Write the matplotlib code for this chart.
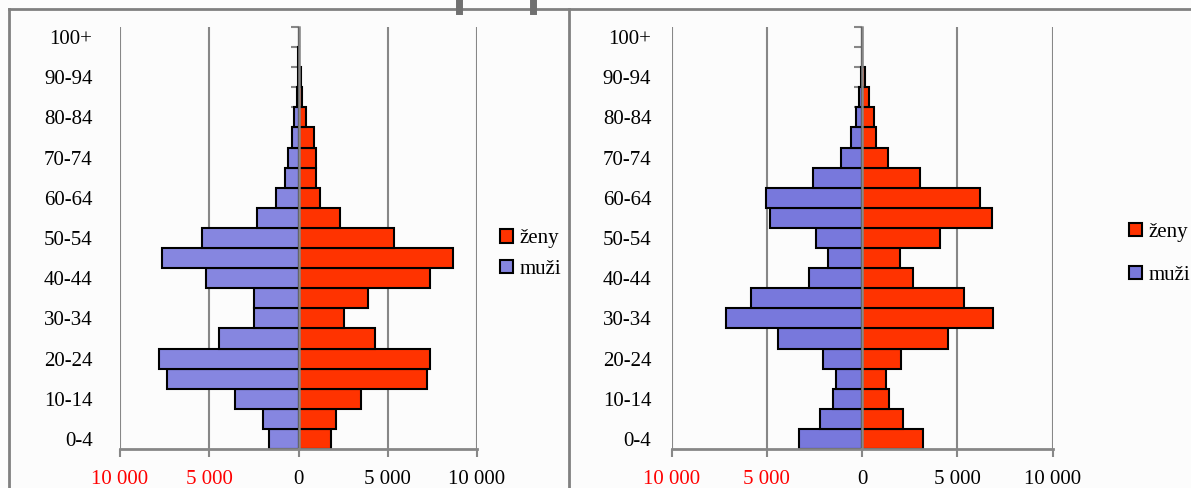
import numpy as np
import matplotlib.pyplot as plt
from matplotlib.lines import Line2D
from matplotlib.ticker import FuncFormatter

plt.rcParams['font.family'] = ['Liberation Serif', 'DejaVu Serif']

ages = ['0-4', '5-9', '10-14', '15-19', '20-24', '25-29', '30-34', '35-39',
        '40-44', '45-49', '50-54', '55-59', '60-64', '65-69', '70-74',
        '75-79', '80-84', '85-89', '90-94', '95-99', '100+']

# left pyramid
zeny_1 = [1830, 2090, 3490, 7220, 7340, 4290, 2540, 3880, 7390, 8680, 5360,
          2300, 1230, 970, 990, 880, 410, 220, 130, 40, 10]
muzi_1 = [1660, 2000, 3570, 7390, 7800, 4460, 2480, 2500, 5170, 7650, 5410,
          2330, 1250, 730, 580, 390, 240, 90, 30, 10, 0]

# right pyramid
zeny_2 = [3220, 2140, 1420, 1260, 2030, 4500, 6860, 5340, 2700, 2010, 4110,
          6840, 6180, 3030, 1380, 740, 610, 350, 160, 20, 0]
muzi_2 = [3310, 2220, 1520, 1370, 2070, 4410, 7160, 5830, 2800, 1770, 2400,
          4810, 5060, 2560, 1100, 560, 300, 160, 70, 0, 0]

xticks = [-10000, -5000, 0, 5000, 10000]

red = '#ff3300'
gray = '#878787'
fs = 15

fig = plt.figure(figsize=(11.91, 4.88), dpi=100, facecolor='#fcfcfc')
W, H = 1191, 488


def pyramid(x0, x1, zeny, muzi, blue, lab_off, legend_xy, spacing):
    ax = fig.add_axes([x0 / W, 39 / H, (x1 - x0) / W, 422 / H])
    ax.set_facecolor('none')
    y = np.arange(len(ages))
    ax.barh(y, [-v for v in muzi], height=1.0, color=blue, edgecolor='black',
            linewidth=1.5, label='muži', zorder=2)
    ax.barh(y, zeny, height=1.0, color=red, edgecolor='black',
            linewidth=1.5, label='ženy', zorder=2)
    ax.set_xlim(-10000, 10000)
    ax.set_ylim(-0.5, len(ages) - 0.5)

    ax.set_xticks(xticks)
    ax.xaxis.set_major_formatter(FuncFormatter(
        lambda v, p: '{:,}'.format(int(abs(v))).replace(',', ' ')))
    ax.tick_params(axis='x', direction='out', length=6, width=1.5, color=gray,
                   labelsize=fs, pad=9)
    for lab, v in zip(ax.get_xticklabels(), xticks):
        if v < 0:
            lab.set_color('red')
    ax.grid(axis='x', color=gray, linewidth=1.5, zorder=0)
    ax.set_axisbelow(True)

    for s in ['top', 'right']:
        ax.spines[s].set_visible(False)
    ax.spines['bottom'].set_color(gray)
    ax.spines['bottom'].set_linewidth(2)
    ax.spines['left'].set_position(('data', 0))
    ax.spines['left'].set_color(gray)
    ax.spines['left'].set_linewidth(1.8)
    ax.spines['left'].set_zorder(3)

    ax.set_yticks(np.arange(-0.5, len(ages), 1))
    ax.set_yticklabels([])
    ax.tick_params(axis='y', direction='out', length=6, width=1.5, color=gray)

    for i, a in enumerate(ages):
        if i % 2 == 0:
            ax.text(lab_off, i, a, transform=ax.get_yaxis_transform(),
                    ha='right', va='center_baseline', fontsize=fs)

    h, l = ax.get_legend_handles_labels()
    ax.legend(h[::-1], l[::-1], loc='center left',
              bbox_to_anchor=(legend_xy[0] / W, 1 - legend_xy[1] / H),
              bbox_transform=fig.transFigure, frameon=False, fontsize=fs,
              handlelength=0.6, handleheight=0.6, handletextpad=0.3,
              labelspacing=spacing, borderpad=0)
    return ax


pyramid(120, 477, zeny_1, muzi_1, '#8686e0', -0.077, (490, 254), 0.55)
pyramid(671.5, 1052.5, zeny_2, muzi_2, '#7878dc', -0.053, (1119, 254), 1.15)

# frame around the panels
frame = dict(color='#808080', linewidth=2, transform=None)
fig.add_artist(Line2D([9, W], [H - 9, H - 9], **frame))
fig.add_artist(Line2D([9, 9], [0, H - 9], **frame))
fig.add_artist(Line2D([569, 569], [0, H - 9], **frame))
fig.add_artist(Line2D([459, 459], [H - 11, H], color='#707070', linewidth=5,
                      transform=None))
fig.add_artist(Line2D([533, 533], [H - 11, H], color='#707070', linewidth=5,
                      transform=None))

fig.savefig('out.png', dpi=100, facecolor=fig.get_facecolor())
